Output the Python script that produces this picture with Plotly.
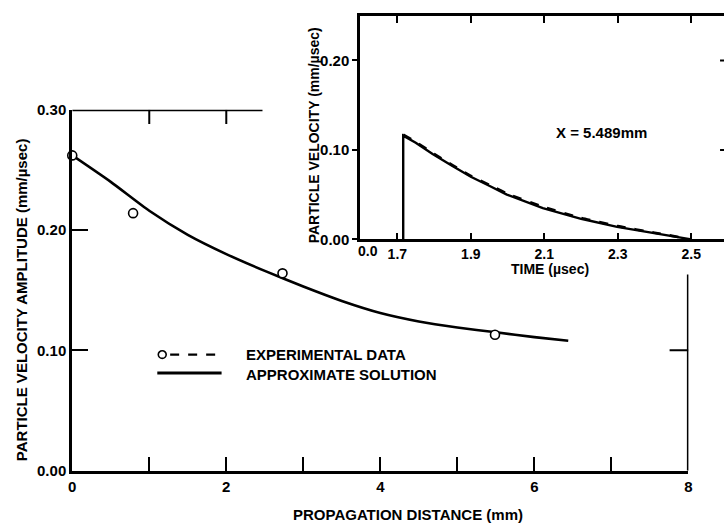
import plotly.graph_objects as go

# ---- main plot: amplitude vs propagation distance ----
exp_distance_mm = [0.0, 0.79, 2.73, 5.489]
exp_amplitude = [0.262, 0.214, 0.164, 0.113]

sol_distance_mm = [0.0, 0.5, 1.0, 1.5, 2.0, 2.5, 3.0, 3.5, 4.0, 4.5, 5.0, 5.5, 6.0, 6.44]
sol_amplitude = [0.262, 0.240, 0.216, 0.196, 0.180, 0.166, 0.153, 0.141, 0.131, 0.124,
                 0.119, 0.115, 0.111, 0.108]

main_x_ticks = [0, 1, 2, 3, 4, 5, 6, 7, 8]
main_x_labels = ["0", "", "2", "", "4", "", "6", "", "8"]
main_y_ticks = [0.0, 0.1, 0.2, 0.3]
main_y_labels = ["0.00", "0.10", "0.20", "0.30"]

# ---- inset: particle velocity history at X = 5.489 mm ----
sol_time_us = [1.716, 1.716, 1.75, 1.796, 1.85, 1.9, 1.95, 1.998, 2.096, 2.2, 2.298, 2.397, 2.478, 2.5]
sol_velocity = [0.0, 0.116, 0.108, 0.0955, 0.082, 0.070, 0.060, 0.050, 0.035, 0.023, 0.014,
                0.007, 0.001, 0.0]
exp_time_us = [1.716, 1.75, 1.8, 1.85, 1.9, 1.95, 2.0, 2.1, 2.2, 2.3, 2.4, 2.48]
exp_velocity = [0.117, 0.109, 0.0955, 0.083, 0.071, 0.061, 0.051, 0.036, 0.024, 0.0148,
                0.0075, 0.0015]

inset_x_ticks = [1.7, 1.9, 2.1, 2.3, 2.5]
inset_x_labels = ["1.7", "1.9", "2.1", "2.3", "2.5"]
inset_y_ticks = [0.0, 0.1, 0.2]
inset_y_labels = ["0.00", "0.10", "0.20"]

W, H = 728, 530
FONT = "Liberation Sans, Arial, sans-serif"
font = dict(family=FONT, size=15, color="black", weight="bold")
small = dict(family=FONT, size=14, color="black", weight="bold")

fig = go.Figure()

fig.add_trace(go.Scatter(
    x=sol_distance_mm, y=sol_amplitude, mode="lines",
    line=dict(color="black", width=2.6, shape="spline", smoothing=0.6),
    xaxis="x", yaxis="y", showlegend=False, cliponaxis=False))
fig.add_trace(go.Scatter(
    x=exp_distance_mm, y=exp_amplitude, mode="markers",
    marker=dict(symbol="circle", size=9, color="white", line=dict(color="black", width=1.6)),
    xaxis="x", yaxis="y", showlegend=False, cliponaxis=False))

fig.add_trace(go.Scatter(
    x=exp_time_us, y=exp_velocity, mode="lines",
    line=dict(color="black", width=2.6, dash="dash", shape="spline", smoothing=0.5),
    xaxis="x2", yaxis="y2", showlegend=False))
fig.add_trace(go.Scatter(
    x=sol_time_us, y=sol_velocity, mode="lines",
    line=dict(color="black", width=2.4, shape="linear"),
    xaxis="x2", yaxis="y2", showlegend=False))

axis_common = dict(showgrid=False, zeroline=False, linecolor="black", tickcolor="black")

fig.update_layout(
    width=W, height=H,
    margin=dict(l=0, r=0, t=0, b=0),
    paper_bgcolor="white", plot_bgcolor="rgba(0,0,0,0)",
    xaxis=dict(domain=[69 / W, 692 / W], range=[0, 8], anchor="y",
               showline=True, linewidth=3, ticks="inside", ticklen=14, tickwidth=2,
               tickvals=main_x_ticks, ticktext=main_x_labels, tickfont=font, **axis_common),
    yaxis=dict(domain=[1 - 477 / H, 1 - 104 / H], range=[0, 0.30], anchor="x",
               showline=True, linewidth=3, ticks="inside", ticklen=16, tickwidth=2,
               tickvals=main_y_ticks, ticktext=main_y_labels, tickfont=font, **axis_common),
    xaxis2=dict(domain=[360 / W, 1.0], range=[1.5985, 2.589], anchor="y2",
                showline=True, linewidth=2.5, mirror="ticks", ticks="inside", ticklen=7,
                tickwidth=1.5, tickvals=inset_x_ticks, ticktext=inset_x_labels,
                ticklabelstandoff=0, tickfont=small, **axis_common),
    yaxis2=dict(domain=[1 - 238 / H, 1 - 7 / H], range=[0, 0.25], anchor="x2",
                showline=True, linewidth=2.5, ticks="outside", ticklen=5, tickwidth=1.5,
                tickvals=inset_y_ticks, ticktext=inset_y_labels, tickfont=font, **axis_common),
)

# partial frame pieces of the main plot (top edge stub and right edge stub)
frame = dict(color="black", width=3)
thin = dict(color="black", width=2)
shapes = [
    dict(type="line", xref="x", yref="y", x0=0, x1=2.47, y0=0.30, y1=0.30, line=frame),
    dict(type="line", xref="x", yref="y", x0=1, x1=1, y0=0.30, y1=0.288, line=thin),
    dict(type="line", xref="x", yref="y", x0=2, x1=2, y0=0.30, y1=0.288, line=thin),
    dict(type="line", xref="x", yref="y", x0=8, x1=8, y0=0, y1=0.163, line=frame),
    dict(type="line", xref="x", yref="y", x0=7.756, x1=8, y0=0.1, y1=0.1, line=thin),
    # inset right-edge tick stubs (frame itself runs past the page edge)
    dict(type="line", xref="paper", yref="y2", x0=724 / W, x1=1.0, y0=0.1, y1=0.1, line=thin),
    dict(type="line", xref="paper", yref="y2", x0=724 / W, x1=1.0, y0=0.2, y1=0.2, line=thin),
    # legend keys
    dict(type="line", xref="paper", yref="paper", x0=168 / W, x1=218 / W, y0=1 - 357 / H, y1=1 - 357 / H,
         line=dict(color="black", width=2.2, dash="dash")),
    dict(type="line", xref="paper", yref="paper", x0=155 / W, x1=220 / W, y0=1 - 376 / H, y1=1 - 376 / H,
         line=dict(color="black", width=3)),
    dict(type="circle", xref="paper", yref="paper", x0=156 / W, x1=164 / W, y0=1 - 361 / H, y1=1 - 353 / H,
         line=dict(color="black", width=1.6), fillcolor="white"),
]
fig.update_layout(shapes=shapes)

annotations = [
    dict(text="EXPERIMENTAL DATA", xref="paper", yref="paper", x=243 / W, y=1 - 357 / H,
         xanchor="left", yanchor="middle", showarrow=False, font=font),
    dict(text="APPROXIMATE SOLUTION", xref="paper", yref="paper", x=243 / W, y=1 - 378 / H,
         xanchor="left", yanchor="middle", showarrow=False, font=font),
    dict(text="PROPAGATION DISTANCE (mm)", xref="paper", yref="paper", x=408 / W, y=1 - 522 / H,
         xanchor="center", yanchor="middle", showarrow=False, font=font),
    dict(text="PARTICLE VELOCITY AMPLITUDE (mm/\u00b5sec)", xref="paper", yref="paper",
         x=18 / W, y=1 - 300 / H, xanchor="center", yanchor="middle", textangle=-90,
         showarrow=False, font=font),
    dict(text="PARTICLE VELOCITY (mm/\u00b5sec)", xref="paper", yref="paper",
         x=313 / W, y=1 - 131 / H, xanchor="center", yanchor="middle", textangle=-90,
         showarrow=False, font=small),
    dict(text="TIME (\u00b5sec)", xref="paper", yref="paper", x=552 / W, y=1 - 269 / H,
         xanchor="center", yanchor="middle", showarrow=False, font=small),
    dict(text="X = 5.489mm", xref="paper", yref="paper", x=556 / W, y=1 - 128 / H,
         xanchor="left", yanchor="middle", showarrow=False, font=font),
    # broken time axis: origin label ahead of the 1.7 tick
    dict(text="0.0", xref="x2", yref="paper", x=1.621, y=1 - 250 / H,
         xanchor="center", yanchor="middle", showarrow=False, font=small),
]
fig.update_layout(annotations=annotations)

fig.write_html("out.html")
